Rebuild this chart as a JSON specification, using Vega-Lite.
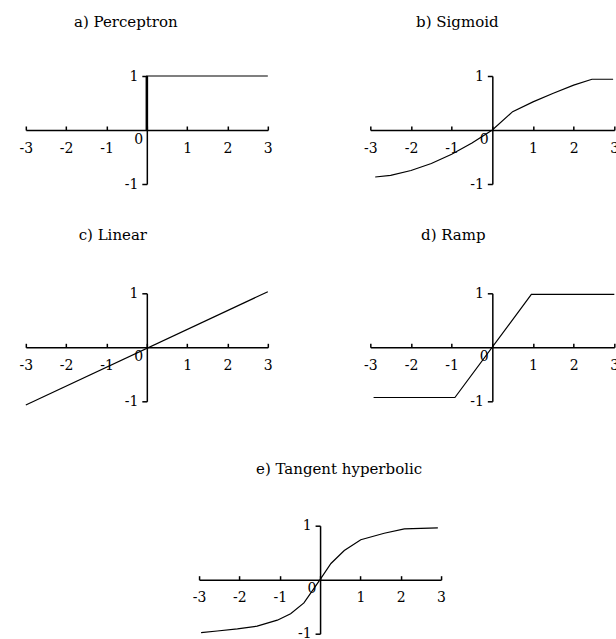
{
  "$schema": "https://vega.github.io/schema/vega-lite/v6.json",
  "background": "white",
  "padding": {"left": 18.8, "top": 15, "right": 0, "bottom": 0},
  "config": {
    "view": {"stroke": null},
    "font": "DejaVu Serif",
    "title": {"font": "DejaVu Serif", "fontSize": 15, "fontWeight": "normal", "color": "black", "anchor": "middle", "frame": "group", "baseline": "alphabetic"},
    "axis": {"domainColor": "black", "domainWidth": 1.5, "tickColor": "black", "tickWidth": 1.5, "labelFont": "DejaVu Serif", "labelFontSize": 14, "labelColor": "black", "grid": false},
    "line": {"color": "black", "strokeWidth": 1.2},
    "text": {"font": "DejaVu Serif", "fontSize": 14, "color": "black"}
  },
  "datasets": {
    "origin": [{"x": 0, "y": 0, "t": "0"}],
    "perceptron": [
      {"x": 0, "y": 0}, {"x": 0, "y": 1}, {"x": 3, "y": 1}
    ],
    "jump": [{"x": 0, "y": 0, "y2": 1}],
    "sigmoid": [
      {"x": -2.88, "y": -0.87}, {"x": -2.5, "y": -0.84}, {"x": -2, "y": -0.75},
      {"x": -1.5, "y": -0.62}, {"x": -1, "y": -0.45}, {"x": -0.5, "y": -0.24},
      {"x": 0, "y": 0}, {"x": 0.5, "y": 0.34}, {"x": 1, "y": 0.52},
      {"x": 1.5, "y": 0.68}, {"x": 2, "y": 0.83}, {"x": 2.45, "y": 0.94},
      {"x": 2.97, "y": 0.94}
    ],
    "linear": [{"x": -3, "y": -1.07}, {"x": 3, "y": 1.03}],
    "ramp": [
      {"x": -2.92, "y": -0.93}, {"x": -0.92, "y": -0.93}, {"x": 0.96, "y": 0.98}, {"x": 3, "y": 0.98}
    ],
    "tanh": [
      {"x": -2.95, "y": -0.98}, {"x": -2.55, "y": -0.95}, {"x": -2.05, "y": -0.91},
      {"x": -1.56, "y": -0.86}, {"x": -1.06, "y": -0.75}, {"x": -0.73, "y": -0.63},
      {"x": -0.4, "y": -0.43}, {"x": 0, "y": 0}, {"x": 0.27, "y": 0.3},
      {"x": 0.6, "y": 0.54}, {"x": 1.01, "y": 0.74}, {"x": 1.59, "y": 0.86},
      {"x": 2.09, "y": 0.94}, {"x": 2.92, "y": 0.96}
    ]
  },
  "center": true,
  "spacing": 52.7,
  "vconcat": [
    {
      "spacing": 37.3,
      "vconcat": [
        {
          "bounds": "flush",
          "spacing": 102.5,
          "hconcat": [
            {
              "width": 242, "height": 108,
              "title": {"text": "a) Perceptron", "dx": -21, "offset": 39},
              "layer": [
                {
                  "data": {"name": "perceptron"},
                  "mark": {"type": "line"},
                  "encoding": {
                    "x": {"field": "x", "type": "quantitative", "scale": {"domain": [-3, 3], "nice": false, "zero": false},
                          "axis": {"title": null, "offset": -54, "values": [-3, -2, -1, 0, 1, 2, 3], "tickSize": -4, "labelPadding": 15, "labelExpr": "datum.value === 0 ? '' : toString(datum.value)", "labelFlush": false, "labelOverlap": false}},
                    "y": {"field": "y", "type": "quantitative", "scale": {"domain": [-1, 1], "nice": false},
                          "axis": {"title": null, "offset": -121, "values": [-1, 1], "tickSize": 5, "labelPadding": 4, "labelExpr": "toString(datum.value)"}},
                    "order": {"value": null}
                  }
                },
                {
                  "data": {"name": "jump"},
                  "mark": {"type": "rule", "color": "black", "strokeWidth": 2.5},
                  "encoding": {
                    "x": {"field": "x", "type": "quantitative"},
                    "y": {"field": "y", "type": "quantitative"},
                    "y2": {"field": "y2"}
                  }
                },
                {
                  "data": {"name": "origin"},
                  "mark": {"type": "text", "dx": -8, "dy": 9.5},
                  "encoding": {
                    "x": {"field": "x", "type": "quantitative"},
                    "y": {"field": "y", "type": "quantitative"},
                    "text": {"field": "t"}
                  }
                }
              ]
            },
            {
              "width": 244, "height": 108,
              "title": {"text": "b) Sigmoid", "dx": -35, "offset": 39},
              "layer": [
                {
                  "data": {"name": "sigmoid"},
                  "mark": {"type": "line"},
                  "encoding": {
                    "x": {"field": "x", "type": "quantitative", "scale": {"domain": [-3, 3], "nice": false, "zero": false},
                          "axis": {"title": null, "offset": -54, "values": [-3, -2, -1, 0, 1, 2, 3], "tickSize": -4, "labelPadding": 15, "labelExpr": "datum.value === 0 ? '' : toString(datum.value)", "labelFlush": false, "labelOverlap": false}},
                    "y": {"field": "y", "type": "quantitative", "scale": {"domain": [-1, 1], "nice": false},
                          "axis": {"title": null, "offset": -122, "values": [-1, 1], "tickSize": 5, "labelPadding": 4, "labelExpr": "toString(datum.value)"}}
                  }
                },
                {
                  "data": {"name": "origin"},
                  "mark": {"type": "text", "dx": -8, "dy": 9.5},
                  "encoding": {
                    "x": {"field": "x", "type": "quantitative"},
                    "y": {"field": "y", "type": "quantitative"},
                    "text": {"field": "t"}
                  }
                }
              ]
            }
          ]
        },
        {
          "bounds": "flush",
          "spacing": 102.5,
          "hconcat": [
            {
              "width": 242, "height": 108,
              "title": {"text": "c) Linear", "dx": -34, "offset": 43},
              "layer": [
                {
                  "data": {"name": "linear"},
                  "mark": {"type": "line"},
                  "encoding": {
                    "x": {"field": "x", "type": "quantitative", "scale": {"domain": [-3, 3], "nice": false, "zero": false},
                          "axis": {"title": null, "offset": -54, "values": [-3, -2, -1, 0, 1, 2, 3], "tickSize": -4, "labelPadding": 15, "labelExpr": "datum.value === 0 ? '' : toString(datum.value)", "labelFlush": false, "labelOverlap": false}},
                    "y": {"field": "y", "type": "quantitative", "scale": {"domain": [-1, 1], "nice": false},
                          "axis": {"title": null, "offset": -121, "values": [-1, 1], "tickSize": 5, "labelPadding": 4, "labelExpr": "toString(datum.value)"}}
                  }
                },
                {
                  "data": {"name": "origin"},
                  "mark": {"type": "text", "dx": -8, "dy": 9.5},
                  "encoding": {
                    "x": {"field": "x", "type": "quantitative"},
                    "y": {"field": "y", "type": "quantitative"},
                    "text": {"field": "t"}
                  }
                }
              ]
            },
            {
              "width": 244, "height": 108,
              "title": {"text": "d) Ramp", "dx": -39, "offset": 43},
              "layer": [
                {
                  "data": {"name": "ramp"},
                  "mark": {"type": "line"},
                  "encoding": {
                    "x": {"field": "x", "type": "quantitative", "scale": {"domain": [-3, 3], "nice": false, "zero": false},
                          "axis": {"title": null, "offset": -54, "values": [-3, -2, -1, 0, 1, 2, 3], "tickSize": -4, "labelPadding": 15, "labelExpr": "datum.value === 0 ? '' : toString(datum.value)", "labelFlush": false, "labelOverlap": false}},
                    "y": {"field": "y", "type": "quantitative", "scale": {"domain": [-1, 1], "nice": false},
                          "axis": {"title": null, "offset": -122, "values": [-1, 1], "tickSize": 5, "labelPadding": 4, "labelExpr": "toString(datum.value)"}}
                  }
                },
                {
                  "data": {"name": "origin"},
                  "mark": {"type": "text", "dx": -8, "dy": 9.5},
                  "encoding": {
                    "x": {"field": "x", "type": "quantitative"},
                    "y": {"field": "y", "type": "quantitative"},
                    "text": {"field": "t"}
                  }
                }
              ]
            }
          ]
        }
      ]
    },
    {
      "width": 242, "height": 108,
      "title": {"text": "e) Tangent hyperbolic", "dx": 19, "offset": 42},
      "layer": [
        {
          "data": {"name": "tanh"},
          "mark": {"type": "line"},
          "encoding": {
            "x": {"field": "x", "type": "quantitative", "scale": {"domain": [-3, 3], "nice": false, "zero": false},
                  "axis": {"title": null, "offset": -54, "values": [-3, -2, -1, 0, 1, 2, 3], "tickSize": -4, "labelPadding": 15, "labelExpr": "datum.value === 0 ? '' : toString(datum.value)", "labelFlush": false, "labelOverlap": false}},
            "y": {"field": "y", "type": "quantitative", "scale": {"domain": [-1, 1], "nice": false},
                  "axis": {"title": null, "offset": -121, "values": [-1, 1], "tickSize": 5, "labelPadding": 4, "labelExpr": "toString(datum.value)"}}
          }
        },
        {
          "data": {"name": "origin"},
          "mark": {"type": "text", "dx": -8, "dy": 9.5},
          "encoding": {
            "x": {"field": "x", "type": "quantitative"},
            "y": {"field": "y", "type": "quantitative"},
            "text": {"field": "t"}
          }
        }
      ]
    }
  ]
}
